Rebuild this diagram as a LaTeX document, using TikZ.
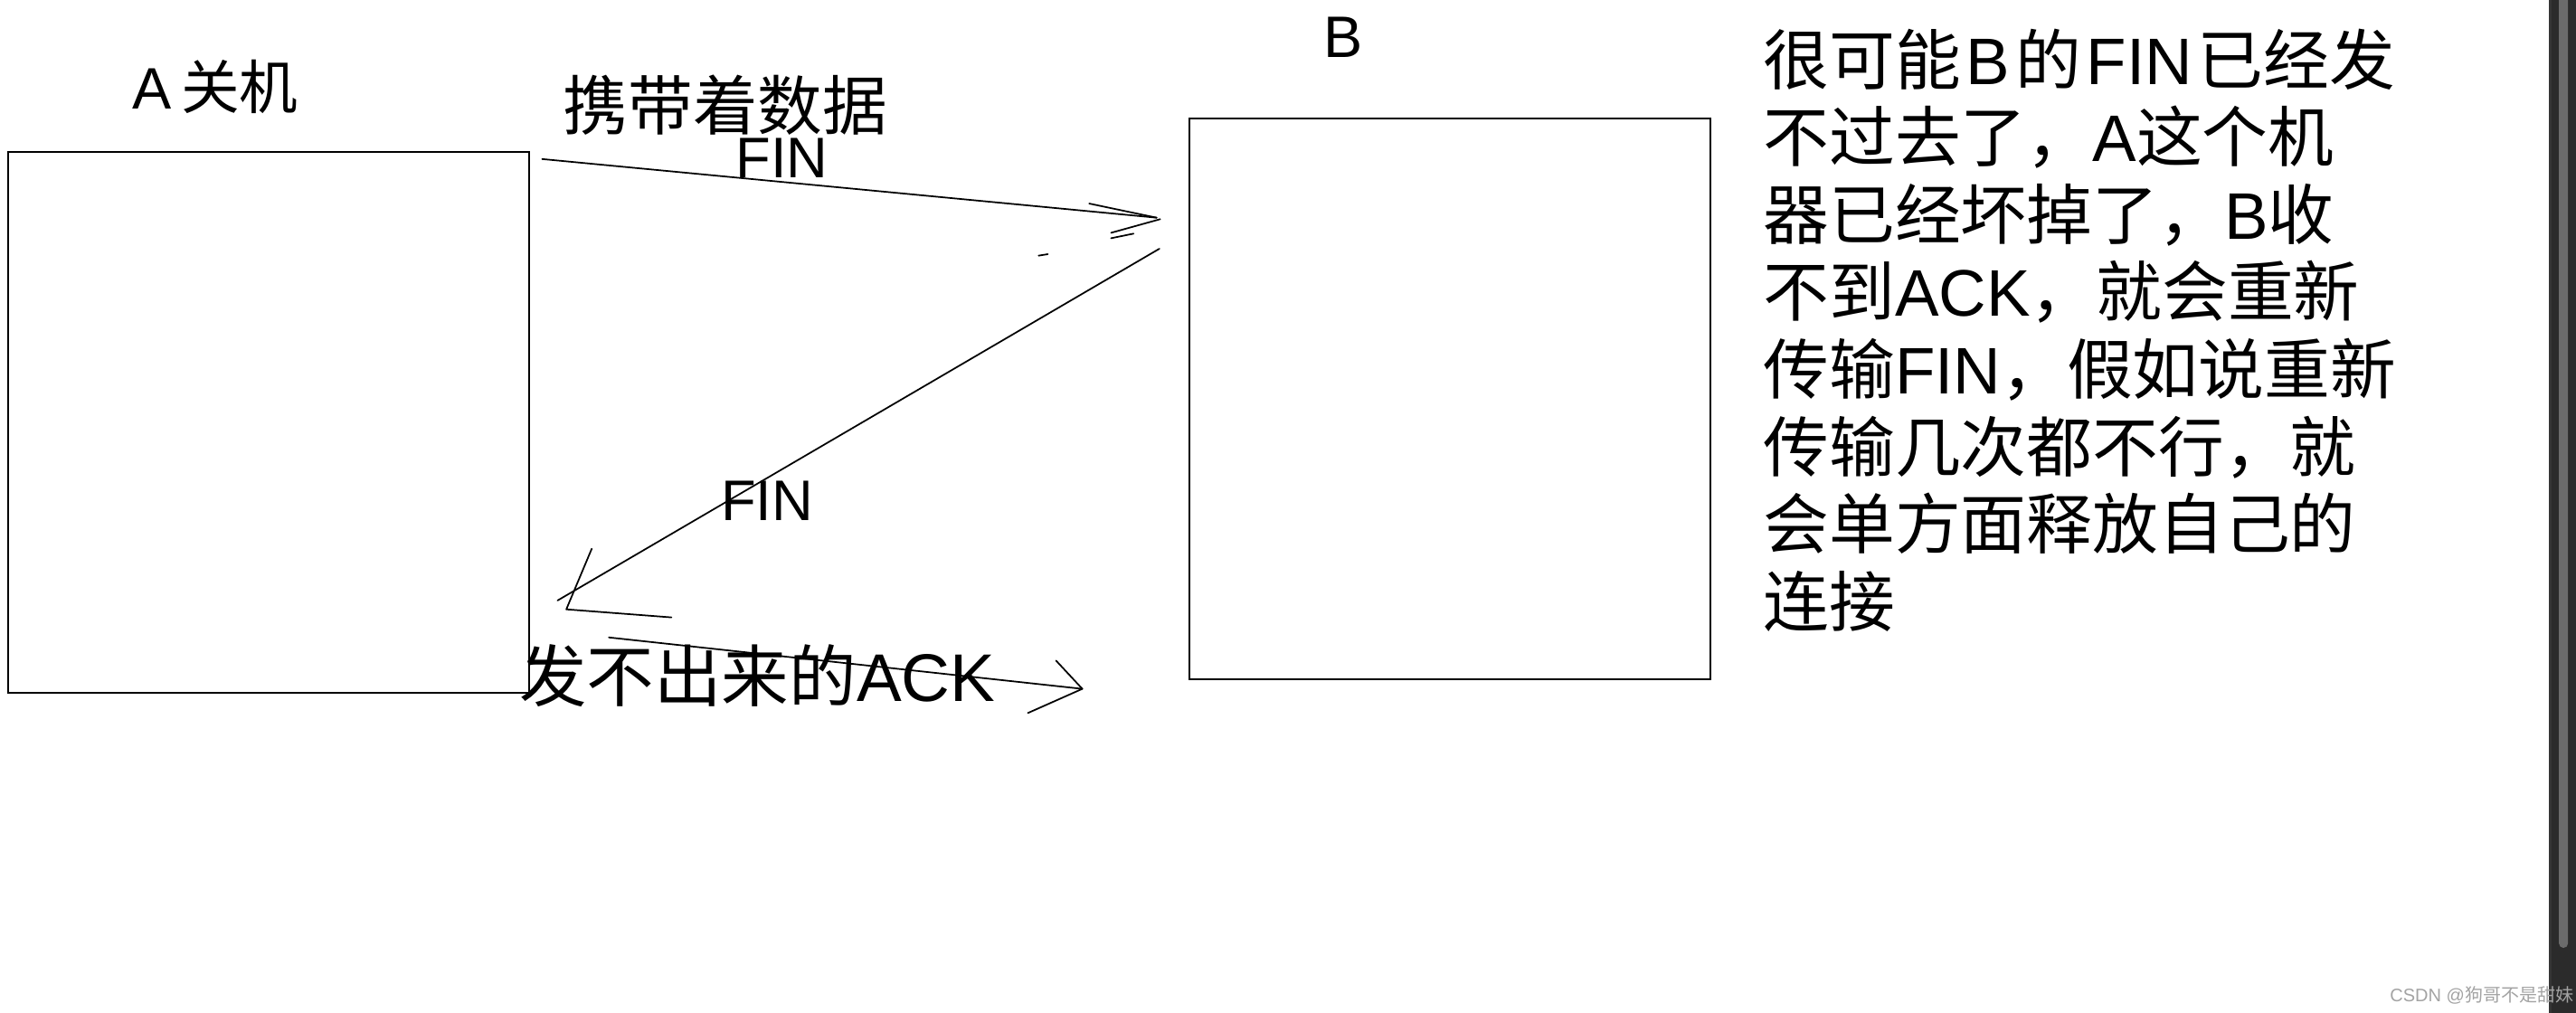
\documentclass[tikz,border=0pt]{standalone}
\usepackage{fontspec}
\setmainfont{Noto Sans CJK SC}
\newfontfamily\latfont{Liberation Sans}
\usepackage{tikz}
\usetikzlibrary{calc}
\definecolor{barbg}{HTML}{2B2B2B}
\definecolor{baredge}{HTML}{353535}
\definecolor{rodgrey}{HTML}{6B6B6B}
\definecolor{wmark}{HTML}{A3A3A3}
\tikzset{hostbox/.style={draw=black, line width=0.55pt, inner sep=0, anchor=north west}}
\tikzset{hand/.style={black, line width=0.5pt, line cap=round, line join=round}}
\tikzset{lbl/.style={inner sep=0, text=black}}
\newcommand{\lt}[1]{{\latfont #1}}
\newcommand{\gp}{\hspace{0.08em}}

\begin{document}
\begin{tikzpicture} [x=0.018163cm, y=-0.018163cm]
\useasboundingbox (0,0) rectangle (1568,616.6);
% the two hosts
\node[hostbox, minimum width=5.7595cm, minimum height=5.9738cm] (hostA) at (4.2,92.1) {};
\node[hostbox, minimum width=5.7613cm, minimum height=6.2008cm] (hostB) at (723.4,71.6) {};
\node[lbl, font=\fontsize{18.4}{21}\selectfont] (nameA) at (131,53) {\lt{A}\,关机};
\node[lbl, font=\fontsize{18.4}{21}\selectfont] (nameB) at (817.6,22.5) {\lt{B}};
% FIN carrying data, A to B
\node[lbl, font=\fontsize{20.4}{24}\selectfont] (carry) at (441.5,64) {携带着数据};
\node[lbl, font=\fontsize{18}{21}\selectfont] (finTop) at (476,96) {\lt{FIN}};
\coordinate (finAs) at (330,96.8);
\coordinate (finAe) at (704,132.5);
\draw[hand] (finAs) -- (finAe);
\draw[hand] (663,123.9) -- (finAe);
\draw[hand] (676.3,141.7) -- (706.2,133.4);
\draw[hand] (676.3,145) -- (690,142.2);
\draw[hand] (632.2,155.6) -- (637.8,154.7);
% FIN from B back to A
\node[lbl, font=\fontsize{18}{21}\selectfont] (finLow) at (467,305) {\lt{FIN}};
\coordinate (finBs) at (705.7,151.4);
\coordinate (finBe) at (339.4,365.5);
\draw[hand] (finBs) -- (finBe);
\draw[hand] (360.2,334) -- (344.7,370.9) -- (408.7,375.8);
% the ACK that never leaves A
\node[lbl, font=\fontsize{21.2}{25}\selectfont] (ack) at (461,411.5) {发不出来的\lt{ACK}};
\coordinate (ackS) at (370.6,388);
\coordinate (ackE) at (658.8,419.3);
\draw[hand] (ackS) -- (ackE);
\draw[hand] (642.8,402.1) -- (ackE) -- (625.7,434);
% explanation
\node[lbl, anchor=north west, align=left, font=\fontsize{20.7}{24.35}\selectfont] (note) at (1073,17) {%
很可能\gp{}\lt{B}\gp{}的\gp{}\lt{FIN}\gp{}已经发\\
不过去了，\lt{A}这个机\\
器已经坏掉了，\lt{B}收\\
不到\lt{ACK}，就会重新\\
传输\lt{FIN}，假如说重新\\
传输几次都不行，就\\
会单方面释放自己的\\
连接};
% scroll bar and watermark
\fill[barbg] (1551.5,0) rectangle (1568,616.6);
\fill[baredge] (1551.5,0) rectangle (1553.2,616.6);
\fill[rodgrey, rounded corners=0.05cm] (1557.6,-8) rectangle (1563.1,577);
\node[lbl, anchor=west, text=wmark, font=\fontsize{5.7}{7}\selectfont] (mark) at (1454.4,606) {\lt{CSDN @}狗哥不是甜妹};
\end{tikzpicture}
\end{document}
